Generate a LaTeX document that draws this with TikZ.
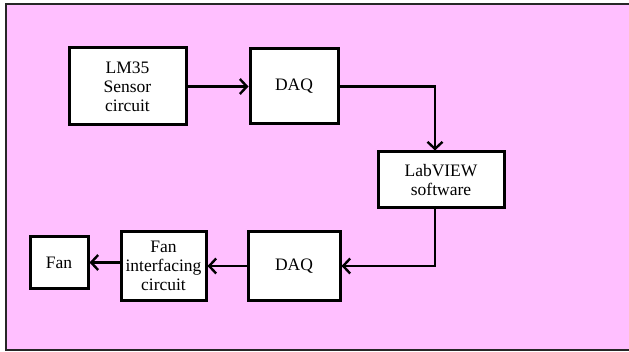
\documentclass[tikz,border=0pt]{standalone}
\usepackage{fontspec}
\setmainfont{Liberation Serif}
\usetikzlibrary{positioning}
\usetikzlibrary{arrows.meta}
\definecolor{bgpink}{RGB}{255,191,255}

\begin{document}
\begin{tikzpicture}[x=1pt,y=1pt,
    block/.style={draw=black, fill=white, line width=3pt, inner sep=0pt, align=center,
        font=\fontsize{17.5}{19}\selectfont},
    link/.style={line width=2.4pt, -{Straight Barb[length=7pt,width=15pt,line width=2.4pt]}},
  ]
  \useasboundingbox (0,0) rectangle (629,351);
  \draw [fill=bgpink, draw=black!85, line width=2pt] (5.5,1.5) rectangle (660,346.5);

  \node [block, minimum width=117pt, minimum height=77pt] (LM) at (127.5,264.5) {LM35\\Sensor\\circuit};
  \node [block, minimum width=88pt, minimum height=75pt, right= 61pt of LM] (DAQA) {DAQ};
  \node [block, minimum width=126pt, minimum height=56pt] (LAB) at (441,171) {LabVIEW\\software};
  \node [block, minimum width=92pt, minimum height=69pt] (DAQB) at (294,85) {DAQ};
  \node [block, minimum width=85pt, minimum height=69pt, left= 39pt of DAQB] (FANIF) {Fan\\interfacing\\circuit};
  \node [block, minimum width=58pt, minimum height=52pt, left= 30pt of FANIF, yshift=3.5pt] (FAN) {Fan};

  \coordinate [xshift=-6pt] (TOPIN) at (LAB.north);
  \coordinate [xshift=-6pt] (BOTOUT) at (LAB.south);

  \draw [link] (LM) -- (DAQA);
  \draw [link] (DAQA.east) -| (TOPIN);
  \draw [link] (BOTOUT) |- (DAQB.east);
  \draw [link] (DAQB) -- (FANIF);
  \draw [link] (FANIF.west |- FAN.east) -- (FAN.east);

\end{tikzpicture}
\end{document}
